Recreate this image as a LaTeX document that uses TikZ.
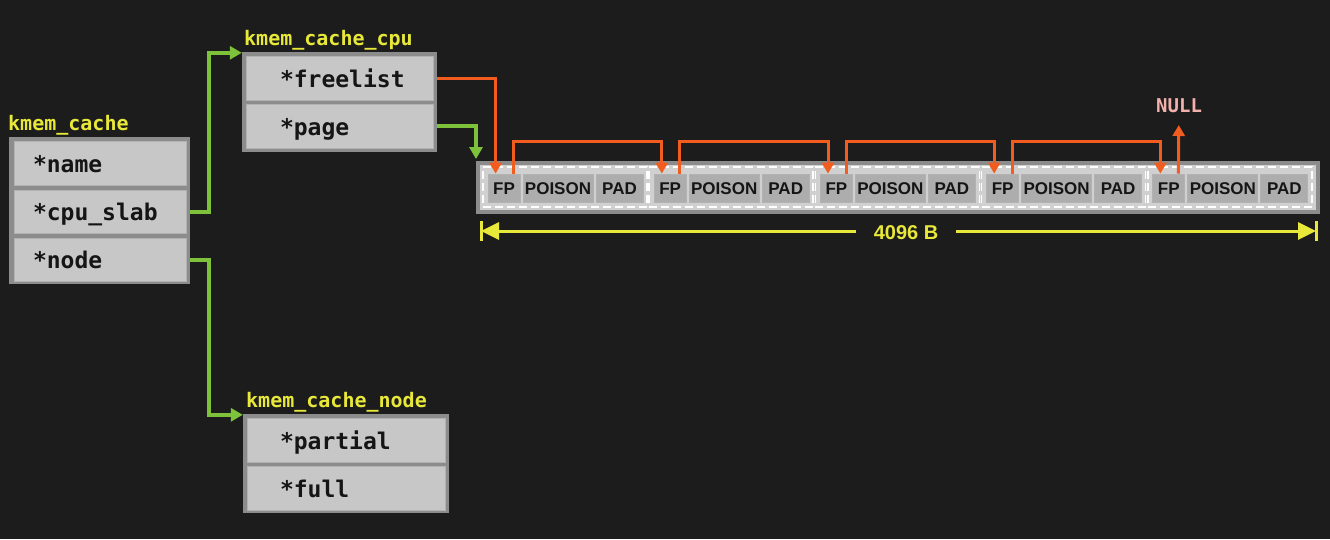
\documentclass[tikz,border=0pt]{standalone}
\usepackage{fontspec}
\setmainfont{Liberation Sans}
\newfontfamily\monofnt{DejaVu Sans Mono}
\usetikzlibrary{arrows.meta}
\definecolor{bg}{HTML}{1C1C1C}
\definecolor{boxgray}{HTML}{8C8C8C}
\definecolor{cellgray}{HTML}{C7C7C7}
\definecolor{celledge}{HTML}{B2B2B2}
\definecolor{slabfill}{HTML}{D0D0D0}
\definecolor{slabcellc}{HTML}{ADADAD}
\definecolor{yellowc}{HTML}{E8E83A}
\definecolor{greenc}{HTML}{7DC23A}
\definecolor{orangec}{HTML}{F25C1E}
\definecolor{nullc}{HTML}{F2B0AC}
\definecolor{txt}{HTML}{151515}
\tikzset{
  outerbox/.style={rectangle, fill=boxgray, draw=none, inner sep=0pt},
  cellbox/.style={rectangle, fill=cellgray, draw=celledge, line width=1pt, inner ysep=0pt,
    align=left, text=txt, text height=18pt, text depth=0pt,
    font=\monofnt\bfseries\fontsize{23}{25}\selectfont},
  structlabel/.style={anchor=base west, inner sep=0pt, text=yellowc,
    font=\monofnt\bfseries\fontsize{20}{22}\selectfont},
  slabbox/.style={rectangle, fill=slabfill, draw=boxgray, line width=4pt, inner sep=0pt},
  objbox/.style={rectangle, draw=white, line width=1.5pt, dash pattern=on 8pt off 4pt,
    inner sep=0pt, minimum width=164pt, minimum height=40pt},
  slabcell/.style={rectangle, fill=slabcellc, draw=celledge, line width=0.8pt, inner sep=0pt,
    minimum height=28pt, text=txt, text height=13pt, text depth=0pt,
    font=\bfseries\fontsize{17}{19}\selectfont},
  greenline/.style={draw=greenc, line width=4pt, -{Triangle[length=12pt,width=13pt]}},
  orangeline/.style={draw=orangec, line width=3pt, -{Triangle[length=11pt,width=12pt]}},
  dimline/.style={draw=yellowc, line width=3pt,
    {Triangle[length=18pt,width=17pt]}-{Triangle[length=18pt,width=17pt]}},
  dimbar/.style={draw=yellowc, line width=3pt},
}
\begin{document}
\begin{tikzpicture}[x=1pt,y=-1pt]
\useasboundingbox (0,0) rectangle (1330,539);
\fill[bg] (0,0) rectangle (1330,539);

% kmem_cache
\node[structlabel] (kclabel) at (8,130) {kmem\_cache};
\node[outerbox, minimum width=181pt, minimum height=147pt] (kc) at (99.5,210.5) {};
\node[cellbox, text width=134pt, inner xsep=19pt, minimum height=44pt] (name) at (100,163) {*name};
\node[cellbox, text width=134pt, inner xsep=19pt, minimum height=43pt] (cpuslab) at (100,211.5) {*cpu\_slab};
\node[cellbox, text width=134pt, inner xsep=19pt, minimum height=43pt] (nodef) at (100,259.5) {*node};

% kmem_cache_cpu
\node[structlabel] (kcclabel) at (244,45) {kmem\_cache\_cpu};
\node[outerbox, minimum width=195pt, minimum height=100pt] (kcc) at (339.5,102) {};
\node[cellbox, text width=119pt, inner xsep=34pt, minimum height=44pt] (freelist) at (339.5,78) {*freelist};
\node[cellbox, text width=119pt, inner xsep=34pt, minimum height=44pt] (page) at (339.5,126) {*page};

% kmem_cache_node
\node[structlabel] (kcnlabel) at (246,407) {kmem\_cache\_node};
\node[outerbox, minimum width=206pt, minimum height=99pt] (kcn) at (346,463.5) {};
\node[cellbox, text width=132pt, inner xsep=33pt, minimum height=44pt] (partial) at (346,440) {*partial};
\node[cellbox, text width=132pt, inner xsep=33pt, minimum height=44pt] (full) at (346,488) {*full};

% slab
\node[slabbox, minimum width=840pt, minimum height=49pt] (slab) at (898,187.5) {};
\foreach \i in {0,...,4}{
  \pgfmathsetmacro\s{488+166.2*\i}
  \node[objbox] (obj\i) at (\s+77,187) {};
  \node[slabcell, minimum width=32pt] (fp\i) at (\s+16,188) {FP};
  \node[slabcell, minimum width=70pt] (po\i) at (\s+70,188) {POISON};
  \node[slabcell, minimum width=47pt] (pa\i) at (\s+131.5,188) {PAD};
}

% green connectors
\draw[greenline] (cpuslab.east -| kc.east) -- ++(19,0) |- ([yshift=-1pt]kcc.north west);
\draw[greenline] (nodef.east -| kc.east) -- ++(19,0) |- ([yshift=-1pt]kcn.north west);
\draw[greenline] (page.east -| kcc.east) -| ([xshift=0pt,yshift=2pt]slab.north west);

% orange freelist chain
\draw[orangeline] (freelist.east -| kcc.east) -| ([xshift=8pt]fp0.north west);
\foreach \i/\j in {0/1,1/2,2/3,3/4}{
  \draw[orangeline] ([xshift=26pt]fp\i.north west) -- ++(0,-32) -| ([xshift=8pt]fp\j.north west);
}
\node[anchor=base west, inner sep=0pt, text=nullc, font=\monofnt\bfseries\fontsize{19}{21}\selectfont] (null) at (1156,112) {NULL};
\coordinate (nullend) at (1178.8,125);
\draw[orangeline] ([xshift=26pt]fp4.north west) -- (nullend);

% size dimension
\coordinate (dimL) at (481,231);
\coordinate (dimR) at (1316,231);
\draw[dimline] (dimL) -- (dimR);
\draw[dimbar] ([yshift=-10pt]dimL) -- ([yshift=10pt]dimL);
\draw[dimbar] ([yshift=-10pt]dimR) -- ([yshift=10pt]dimR);
\node[fill=bg, inner xsep=18pt, inner ysep=4pt, text=yellowc, text height=15pt, text depth=0pt,
  font=\bfseries\fontsize{20}{22}\selectfont] (size) at (906,232) {4096 B};
\end{tikzpicture}
\end{document}
